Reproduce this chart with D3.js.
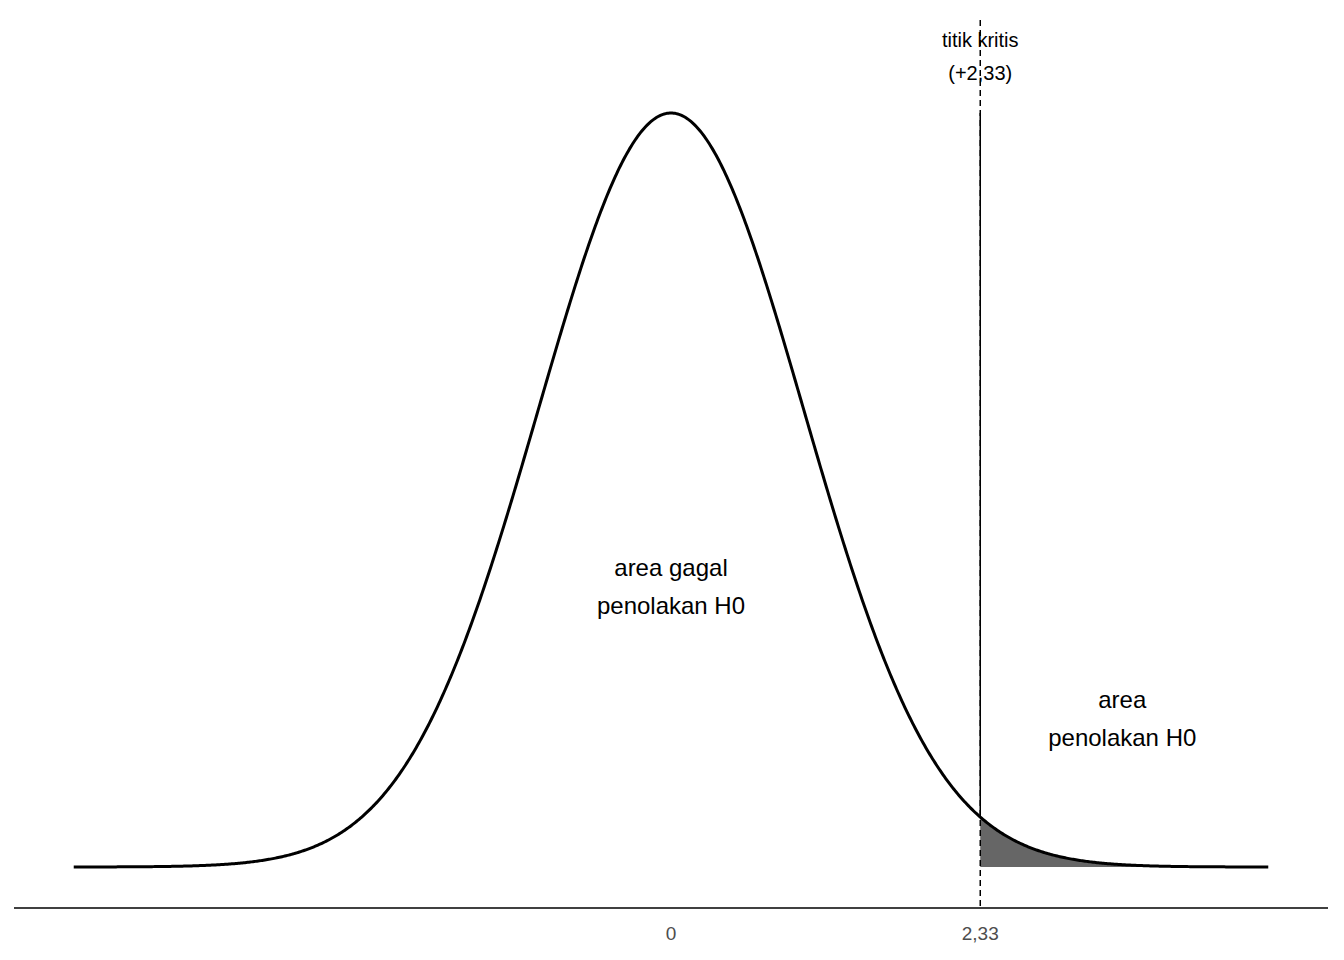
<!DOCTYPE html>
<html><head><meta charset="utf-8">
<script src="https://cdn.jsdelivr.net/npm/d3@7"></script>
<style>body{margin:0;background:#fff}text{font-family:Arial,"Liberation Sans",sans-serif}</style>
</head><body>
<svg id="c" width="1344" height="960"></svg>
<script>
const xRange = [-4.5, 4.5];
const critical = 2.33;
const tickValues = [0, 2.33];
const tickLabels = ["0", "2,33"];
const midLabel = ["area gagal", "penolakan H0"];
const tailLabel = ["area", "penolakan H0"];
const critLabel = ["titik kritis", "(+2,33)"];

const pdf = z => Math.exp(-z * z / 2) / Math.sqrt(2 * Math.PI);
const svg = d3.select('#c');
const x = d3.scaleLinear().domain([-4.95, 4.95]).range([14, 1328]);
const y = d3.scaleLinear().domain([0, pdf(0)]).range([867, 113]);

const xs = d3.range(xRange[0], xRange[1] + 1e-9, 0.01);
const line = d3.line().x(d => x(d)).y(d => y(pdf(d)));
const area = d3.area().x(d => x(d)).y0(y(0)).y1(d => y(pdf(d)));

svg.append('path').datum(xs.filter(d => d >= critical))
  .attr('d', area).attr('fill', '#666666');
svg.append('path').datum(xs).attr('d', line)
  .attr('fill', 'none').attr('stroke', '#000').attr('stroke-width', 3);

svg.append('line').attr('x1', x(critical)).attr('x2', x(critical))
  .attr('y1', 20).attr('y2', 908).attr('stroke', '#000').attr('stroke-width', 1.5)
  .attr('stroke-dasharray', '6,4');
svg.append('line').attr('x1', x(critical)).attr('x2', x(critical))
  .attr('y1', y(pdf(0))).attr('y2', y(pdf(critical))).attr('stroke', '#000').attr('stroke-width', 1.5);

svg.append('line').attr('x1', 14).attr('x2', 1328).attr('y1', 908).attr('y2', 908)
  .attr('stroke', '#000').attr('stroke-width', 1.5);
tickValues.forEach((v, i) => svg.append('text').attr('x', x(v)).attr('y', 940)
  .attr('text-anchor', 'middle').attr('font-size', 19).attr('fill', '#4d4d4d').text(tickLabels[i]));

function label(lines, cx, ys, size) {
  lines.forEach((t, i) => svg.append('text').attr('x', cx).attr('y', ys[i])
    .attr('text-anchor', 'middle').attr('font-size', size).attr('fill', '#000').text(t));
}
label(midLabel, x(0), [576, 614], 24);
label(tailLabel, x(3.4), [708, 746], 24);
label(critLabel, x(critical), [47, 80], 20);
</script>
</body></html>
